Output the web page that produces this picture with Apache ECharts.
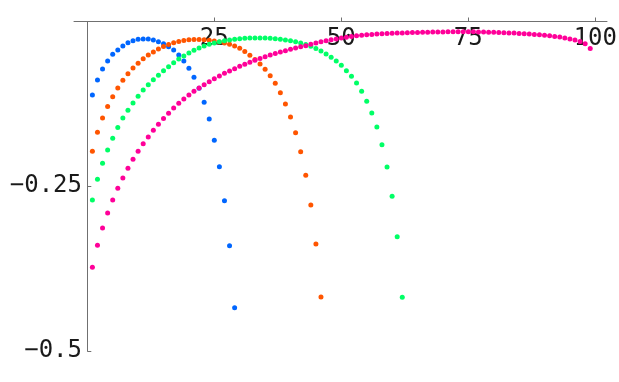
<!DOCTYPE html>
<html>
<head>
<meta charset="utf-8">
<script src="https://cdn.jsdelivr.net/npm/echarts@6/dist/echarts.min.js"></script>
<style>
html,body{margin:0;padding:0;background:#fff;}
#c{width:619px;height:382px;}
</style>
</head>
<body>
<div id="c"></div>
<script>
const xTickValues = [25, 50, 75, 100];
const xTickLabels = ['25', '50', '75', '100'];
const yTickValues = [-0.25, -0.5];
const yTickLabels = ['\u22120.25', '\u22120.5'];

const seriesNames = ['A', 'B', 'C', 'D'];
const seriesColors = ['#0066ff', '#ff5500', '#00ff66', '#ff0099'];

const blueY = [-0.1115,-0.0888,-0.0721,-0.0599,-0.0498,-0.0432,-0.0372,-0.0322,-0.0291,-0.0270,
  -0.0266,-0.0266,-0.0281,-0.0307,-0.0337,-0.0382,-0.0432,-0.0508,-0.0599,-0.0710,
  -0.0847,-0.1014,-0.1226,-0.1480,-0.1803,-0.2203,-0.2719,-0.3402,-0.4343];

const orangeY = [-0.1970,-0.1681,-0.1464,-0.1290,-0.1143,-0.1009,-0.0891,-0.0794,-0.0706,-0.0633,
  -0.0566,-0.0508,-0.0463,-0.0417,-0.0381,-0.0349,-0.0323,-0.0303,-0.0288,-0.0278,
  -0.0273,-0.0273,-0.0278,-0.0285,-0.0296,-0.0310,-0.0326,-0.0346,-0.0372,-0.0407,
  -0.0455,-0.0514,-0.0578,-0.0645,-0.0725,-0.0822,-0.0938,-0.1080,-0.1252,-0.1449,
  -0.1687,-0.1976,-0.2334,-0.2785,-0.3376,-0.4181];

const greenY = [-0.2709,-0.2395,-0.2152,-0.1950,-0.1772,-0.1608,-0.1464,-0.1347,-0.1237,-0.1135,
  -0.1039,-0.0959,-0.0885,-0.0815,-0.0747,-0.0686,-0.0625,-0.0569,-0.0524,-0.0478,
  -0.0437,-0.0402,-0.0372,-0.0346,-0.0326,-0.0307,-0.0291,-0.0281,-0.0270,-0.0261,
  -0.0255,-0.0250,-0.0250,-0.0250,-0.0250,-0.0255,-0.0261,-0.0270,-0.0281,-0.0291,
  -0.0307,-0.0326,-0.0349,-0.0376,-0.0411,-0.0449,-0.0493,-0.0543,-0.0599,-0.0665,
  -0.0747,-0.0832,-0.0933,-0.1059,-0.1209,-0.1388,-0.1601,-0.1869,-0.2208,-0.2652,
  -0.3266,-0.4185];

const magentaY = [-0.3730,-0.3396,-0.3134,-0.2906,-0.2709,-0.2531,-0.2375,-0.2228,-0.2091,-0.1970,
  -0.1854,-0.1753,-0.1651,-0.1560,-0.1472,-0.1392,-0.1313,-0.1241,-0.1176,-0.1115,
  -0.1059,-0.1009,-0.0959,-0.0914,-0.0868,-0.0827,-0.0786,-0.0751,-0.0716,-0.0680,
  -0.0649,-0.0619,-0.0589,-0.0561,-0.0534,-0.0508,-0.0487,-0.0464,-0.0443,-0.0422,
  -0.0402,-0.0385,-0.0367,-0.0346,-0.0326,-0.0308,-0.0293,-0.0278,-0.0264,-0.0250,
  -0.0238,-0.0228,-0.0217,-0.0209,-0.0202,-0.0196,-0.0191,-0.0187,-0.0182,-0.0179,
  -0.0176,-0.0173,-0.0171,-0.0168,-0.0167,-0.0164,-0.0162,-0.0161,-0.0159,-0.0158,
  -0.0156,-0.0156,-0.0155,-0.0155,-0.0155,-0.0156,-0.0158,-0.0159,-0.0162,-0.0164,
  -0.0167,-0.0170,-0.0173,-0.0176,-0.0181,-0.0185,-0.0190,-0.0196,-0.0202,-0.0209,
  -0.0217,-0.0226,-0.0237,-0.0249,-0.0264,-0.0282,-0.0305,-0.0338,-0.0410];

const allY = [blueY, orangeY, greenY, magentaY];

const chart = echarts.init(document.getElementById('c'), null, {renderer: 'canvas'});

const labelFont = {
  fontFamily: 'DejaVu Sans Mono',
  fontSize: 24,
  color: '#1a1a1a'
};

chart.setOption({
  animation: false,
  backgroundColor: '#ffffff',
  grid: {left: 74, right: 12, top: 21.5, bottom: 31, containLabel: false, outerBoundsMode: 'none'},
  xAxis: {
    type: 'value',
    position: 'top',
    min: -2.62,
    max: 102.3,
    axisLine: {show: true, onZero: false, lineStyle: {color: '#707070', width: 1}},
    axisTick: {show: true, inside: false, length: 4, customValues: xTickValues, lineStyle: {color: '#707070'}},
    axisLabel: Object.assign({
      show: true,
      inside: true,
      margin: 5,
      customValues: xTickValues,
      formatter: function (v) {
        const i = xTickValues.findIndex(t => Math.abs(t - v) < 1e-6);
        return i >= 0 ? xTickLabels[i] : '';
      }
    }, labelFont),
    splitLine: {show: false}
  },
  yAxis: {
    type: 'value',
    min: -0.5,
    max: 0,
    interval: 0.25,
    axisLine: {show: true, onZero: true, lineStyle: {color: '#707070', width: 1}},
    axisTick: {show: true, inside: true, length: 4, customValues: yTickValues, lineStyle: {color: '#707070'}},
    axisLabel: Object.assign({
      show: true,
      margin: -8,
      customValues: yTickValues,
      formatter: function (v) {
        const i = yTickValues.findIndex(t => Math.abs(t - v) < 1e-6);
        return i >= 0 ? yTickLabels[i] : '';
      }
    }, labelFont),
    splitLine: {show: false}
  },
  series: allY.map(function (ys, k) {
    return {
      name: seriesNames[k],
      type: 'scatter',
      symbol: 'circle',
      symbolSize: 5,
      itemStyle: {color: seriesColors[k], opacity: 1},
      data: ys.map(function (y, i) { return [i + 1, y]; })
    };
  })
});
</script>
</body>
</html>
